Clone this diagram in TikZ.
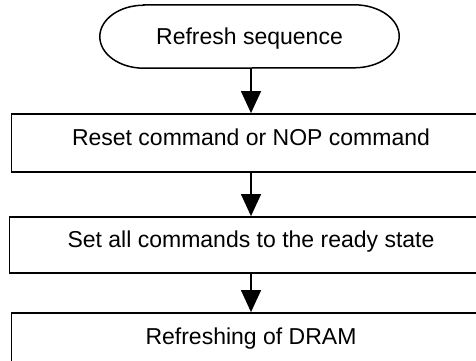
\documentclass[tikz,border=0pt]{standalone}
\usepackage{fontspec}
\setmainfont{Liberation Sans}
\usetikzlibrary{arrows.meta}
\begin{document}
\begin{tikzpicture}[x=1pt,y=-1pt,
  txt/.style={font=\fontsize{23}{27}\selectfont},
  stepbox/.style={txt, draw, line width=1.8pt, minimum width=479pt, minimum height=58pt,
    inner sep=0pt, text height=16.5pt, text depth=11pt},
  termbox/.style={txt, minimum width=299pt, minimum height=63pt, inner sep=0pt,
    text height=16.5pt, text depth=0pt},
  termline/.style={line width=1.5pt},
  arr/.style={line width=1.3pt, -{Triangle[width=20pt,length=22pt]}}]
\useasboundingbox (0,0) rectangle (476,360);
\clip (0,0) rectangle (476,360);
\node[termbox] (t) at (249.5,36.5) {Refresh sequence};
\draw[termline] ([xshift=44pt]t.north west) -- ([xshift=-45pt]t.north east)
  arc[start angle=90, end angle=-90, x radius=45pt, y radius=31.5pt]
  -- ([xshift=44pt]t.south west)
  arc[start angle=270, end angle=90, x radius=44pt, y radius=31.5pt] -- cycle;
\node[stepbox] (b1) at (251,143) {Reset command or NOP command};
\node[stepbox, minimum width=483pt, minimum height=56pt] (b2) at (251,245) {Set all commands to the ready state};
\node[stepbox] (b3) at (251,342) {Refreshing of DRAM};
\draw[arr] (t.south -| b1.north) -- (b1.north);
\draw[arr] (b1.south) -- (b2.north);
\draw[arr] (b2.south) -- (b3.north);
\end{tikzpicture}
\end{document}
